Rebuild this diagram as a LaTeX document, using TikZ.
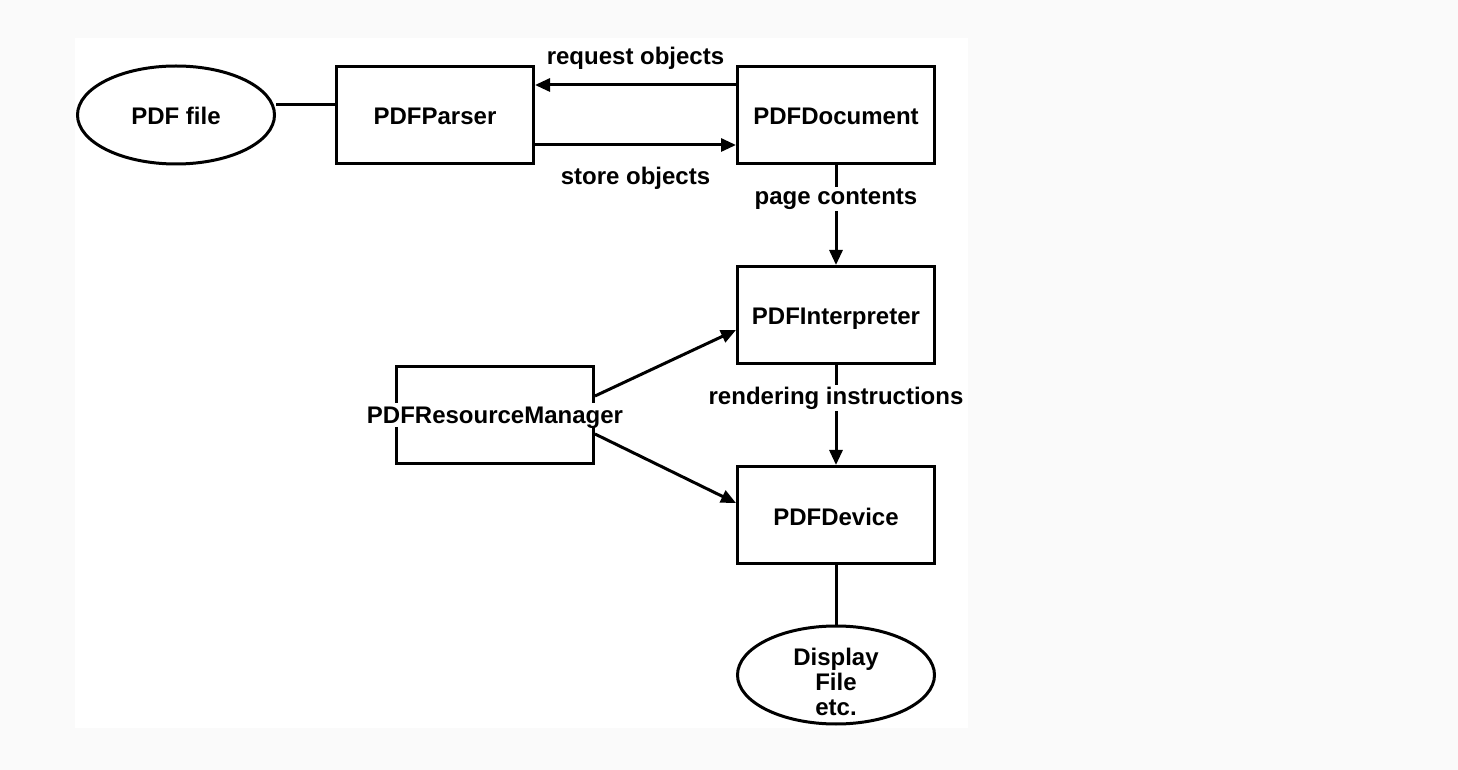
\documentclass[tikz,border=0pt]{standalone}
\usepackage{fontspec}
\setmainfont{Liberation Sans}
\usetikzlibrary{shapes.geometric, arrows.meta}

\begin{document}
\begin{tikzpicture}[
    x=0.5pt, y=-0.5pt,
    font=\fontsize{12}{12.5}\selectfont\bfseries,
    box/.style={rectangle, draw, line width=1.5pt, minimum width=98.5pt, minimum height=48.5pt, align=center, text height=11pt, text depth=1pt},
    oval/.style={ellipse, draw, line width=1.5pt, minimum width=98.5pt, minimum height=49pt, align=center, inner sep=1pt},
    lbl/.style={fill=white, inner sep=1pt},
    arrow/.style={-{Triangle[length=7.5pt, width=6.5pt]}, line width=1.5pt},
    link/.style={line width=1.5pt}
]
    % Page
    \fill[gray!4] (0,0) rectangle (1458,770);
    \useasboundingbox (0,0) rectangle (1458,770);
    \fill[white] (75,38) rectangle (968,728);
    % Input
    \node[oval, text height=11pt, text depth=1pt] (pdffile) at (176,115) {PDF file};
    \node[box] (parser) at (435,115) {PDFParser};
    \node[box] (doc) at (836,115) {PDFDocument};
    % Processing
    \node[box] (interp) at (836,315) {PDFInterpreter};
    \node[box] (manager) at (495,415) {};
    \node[lbl, text height=9pt, text depth=1pt] (managertext) at (manager) {PDFResourceManager};
    \node[box] (device) at (836,515) {PDFDevice};
    % Output
    \node[oval] (display) at (836,675) {};
    \node[align=center, yshift=-3.5pt] (displaytext) at (display) {Display\\File\\etc.};
    % Arrows
    \draw[link] ([yshift=5pt]pdffile.east) -- ([yshift=5pt]parser.west);
    \draw[arrow] ([yshift=15pt]doc.west) -- node[above=3.5pt] {request objects} ([yshift=15pt]parser.east);
    \draw[arrow] ([yshift=-15pt]parser.east) -- node[below=7pt] {store objects} ([yshift=-15pt]doc.west);
    \draw[arrow] (doc) -- node[lbl, pos=0.34] {page contents} (interp);
    \draw[arrow] (interp) -- node[lbl, pos=0.33] {rendering instructions} (device);
    \draw[arrow] ([yshift=9.5pt]manager.east) -- ([yshift=-7.5pt]interp.west);
    \draw[arrow] ([yshift=-9.5pt]manager.east) -- ([yshift=6pt]device.west);
    \draw[link] (device) -- (display);
\end{tikzpicture}
\end{document}
